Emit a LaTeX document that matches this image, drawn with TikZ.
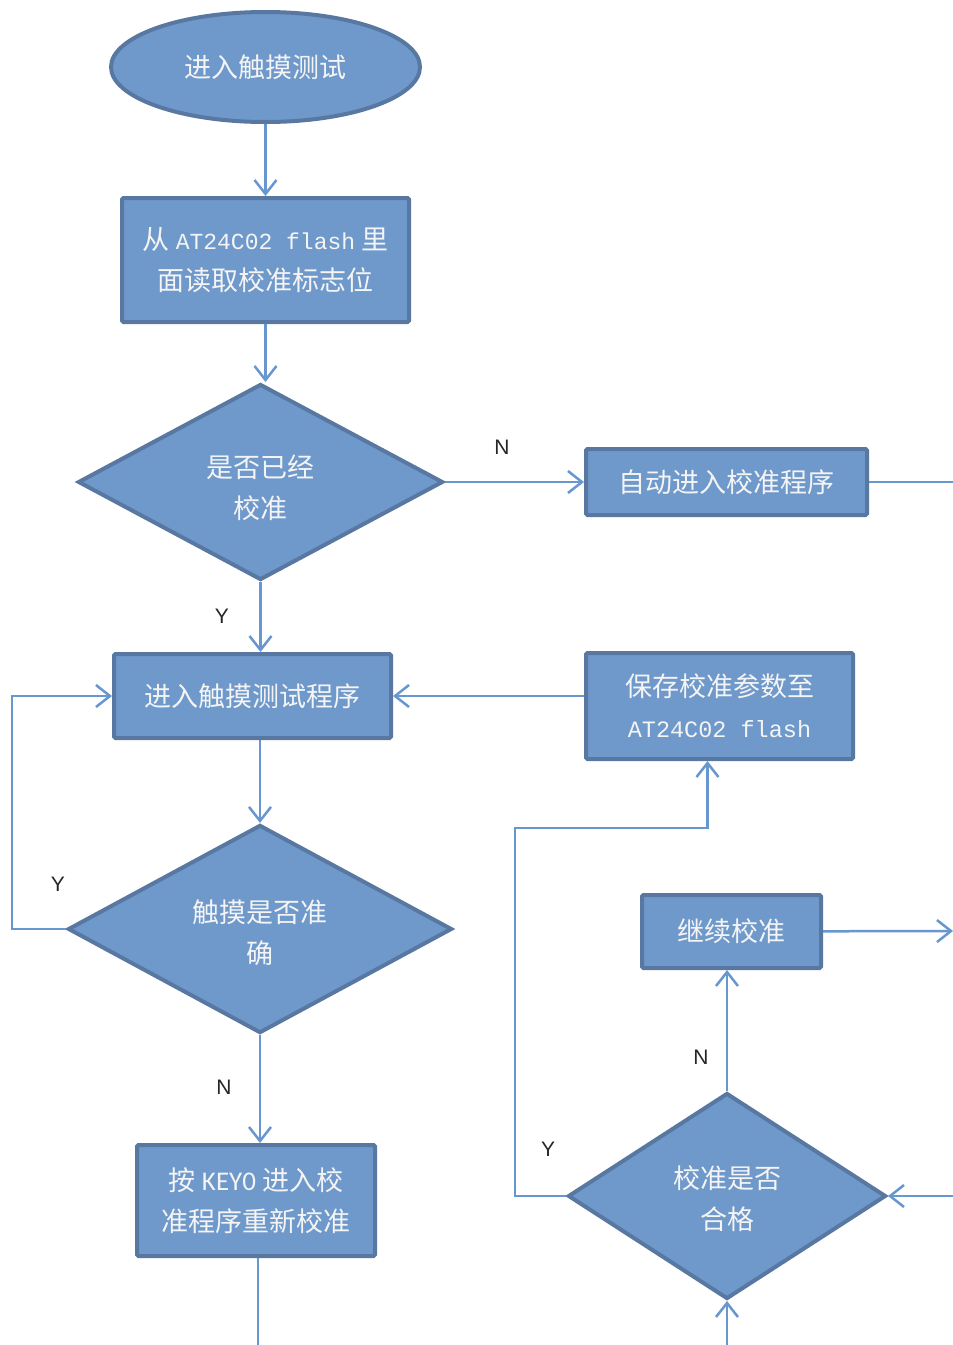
\documentclass[tikz,border=0pt]{standalone}
\usepackage{fontspec}
\setmainfont{Noto Sans CJK SC}
\newfontfamily\ymfont{Liberation Mono}
\newfontfamily\lblfont{Liberation Sans}
\newfontfamily\keyfont{Carlito}
\usetikzlibrary{shapes.geometric,arrows.meta}

\definecolor{boxfill}{RGB}{111,153,203}
\definecolor{boxline}{RGB}{88,120,162}
\definecolor{arrline}{RGB}{104,150,206}
\definecolor{txt}{RGB}{244,244,244}

\tikzset{
  base/.style={fill=boxfill, draw=boxline, line width=4pt, text=txt, align=center,
    inner sep=0pt, font=\fontsize{27}{41}\selectfont},
  startend/.style={base, ellipse},
  procbox/.style={base, rectangle, rounded corners=1.5pt},
  decision/.style={base, diamond},
  link/.style={arrline, line width=2.5pt,
    -{Straight Barb[length=14pt,width=22pt,line width=2.5pt]}},
  plain/.style={arrline, line width=2.5pt},
  yn/.style={font=\lblfont\fontsize{21}{21}\selectfont, text=black!85}
}

\begin{document}
\begin{tikzpicture}[x=1pt,y=-1pt]
\useasboundingbox (0,0) rectangle (953,1345);

% shapes
\node[startend, minimum width=309pt, minimum height=110pt] (start) at (265.5,67) {进入触摸测试};
\node[procbox, minimum width=287pt, minimum height=124pt] (read) at (265.5,260)
  {从 {\ymfont\fontsize{23}{41}\selectfont AT24C02 flash} 里\\面读取校准标志位};
\node[decision, minimum width=365pt, minimum height=196pt] (chk) at (260.5,482)
  {\rule{0pt}{34pt}是否已经\\校准};
\node[procbox, minimum width=281pt, minimum height=66pt] (auto) at (726.5,482) {自动进入校准程序};
\node[procbox, minimum width=277pt, minimum height=84pt] (test) at (252.5,696) {进入触摸测试程序};
\node[procbox, minimum width=267pt, minimum height=106pt] (save) at (719.5,706)
  {保存校准参数至\\{\ymfont\fontsize{23.5}{41}\selectfont AT24C02 flash}};
\node[decision, minimum width=384pt, minimum height=202pt] (acc) at (260,929)
  {\rule{0pt}{30pt}触摸是否准\\确};
\node[procbox, minimum width=179pt, minimum height=73pt] (cont) at (731.5,931.5) {继续校准};
\node[decision, minimum width=318pt, minimum height=206pt] (pass) at (727,1196)
  {\rule{0pt}{28pt}校准是否\\合格};
\node[procbox, minimum width=238pt, minimum height=111pt] (key) at (256,1200.5)
  {按 {\keyfont KEY0} 进入校\\准程序重新校准};

% loose ends at the page border
\coordinate (eA) at (953,482);
\coordinate (eC) at (953,931);
\coordinate (eP) at (953,1196);
\coordinate (eK) at (258,1345);
\coordinate (eB) at (727,1345);

% connectors
\draw[link] (start) -- (start |- read.north);
\draw[link] (read) -- (read |- chk.north);
\draw[link] (chk.east) -- (auto.west);
\draw[plain] (auto) -- (eA);
\draw[link] (chk.south) -- (chk.south |- test.north);
\draw[link] (save.west |- test.east) -- (test.east);
\draw[link] (acc.north |- test.south) -- (acc.north);
\draw[link] (acc.west) -- ++(-54,0) |- (test.west);
\draw[link] (acc.south) -- (acc.south |- key.north);
\draw[plain] (key.south -| eK) -- (eK);
\draw[link] (pass.west) -| (515,828) -| ([xshift=-12pt]save.south);
\draw[link] (pass.north) -- (pass.north |- cont.south);
\draw[link] (cont) -- (eC);
\draw[link] (eP) -- (pass.east);
\draw[link] (eB) -- (pass.south);

% labels
\node[yn] (lN1) at (502,447) {N};
\node[yn] (lY1) at (222,616) {Y};
\node[yn] (lY2) at (58,884) {Y};
\node[yn] (lN2) at (224,1087) {N};
\node[yn] (lY3) at (548,1149) {Y};
\node[yn] (lN3) at (701,1057) {N};
\end{tikzpicture}
\end{document}
